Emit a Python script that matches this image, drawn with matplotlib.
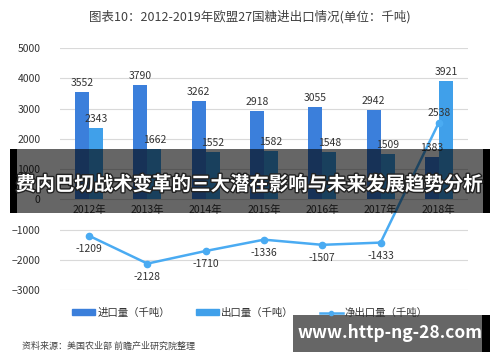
import matplotlib.pyplot as plt
import matplotlib.patches as mpatches
import matplotlib.patheffects as pe
from matplotlib.lines import Line2D
import numpy as np

plt.rcParams['font.family'] = ['Noto Sans CJK SC', 'DejaVu Sans']

years = ['2012年', '2013年', '2014年', '2015年', '2016年', '2017年', '2018年']
imports = [3552, 3790, 3262, 2918, 3055, 2942, 1383]
exports = [2343, 1662, 1552, 1582, 1548, 1509, 3921]
net_exports = [-1209, -2128, -1710, -1336, -1507, -1433, 2538]

c_imp = '#3b7fdb'
c_exp = '#40a0ea'
c_net = '#4aabf2'

fig = plt.figure(figsize=(5, 3.62), dpi=100)
ax = fig.add_axes([0.12, 0.199, 0.816, 0.668])

x = np.arange(len(years))
w = 0.24
ax.bar(x - w / 2, imports, w, color=c_imp, zorder=2)
ax.bar(x + w / 2, exports, w, color=c_exp, zorder=2)
ax.plot(x, net_exports, color=c_net, lw=1.8, marker='o', ms=4.5, zorder=3)

for i in range(len(years)):
    ax.annotate(str(imports[i]), (x[i] - w / 2, imports[i]), xytext=(0, 3),
                textcoords='offset points', ha='center', va='bottom', fontsize=7.5, color='#333333')
    ax.annotate(str(exports[i]), (x[i] + w / 2, exports[i]), xytext=(0, 3),
                textcoords='offset points', ha='center', va='bottom', fontsize=7.5, color='#333333')
    if i < len(years) - 1:
        ax.annotate(str(net_exports[i]), (x[i], net_exports[i]), xytext=(0, -6),
                    textcoords='offset points', ha='center', va='top', fontsize=7.5, color='#333333')
    else:
        ax.annotate(str(net_exports[i]), (x[i], net_exports[i]), xytext=(0, 3),
                    textcoords='offset points', ha='center', va='bottom', fontsize=7.5, color='#333333')
    ax.text(x[i], -170, years[i], ha='center', va='top', fontsize=7.5, color='#333333')

ax.set_xlim(-0.5, len(years) - 0.5)
ax.set_ylim(-3000, 5000)
ax.set_yticks(np.arange(-3000, 5001, 1000))
ax.set_xticks([])
ax.tick_params(axis='y', length=0, labelsize=7.5, labelcolor='#333333', pad=14)
ax.grid(axis='y', color='#d9d9d9', lw=0.8, zorder=0)
for s in ax.spines.values():
    s.set_visible(False)

fig.text(0.5, 0.955, '图表10：2012-2019年欧盟27国糖进出口情况(单位：千吨)', ha='center', va='center',
         fontsize=9, color='#404040')

handles = [mpatches.Patch(color=c_imp), mpatches.Patch(color=c_exp),
           Line2D([0], [0], color=c_net, lw=1.8, marker='o', ms=3)]
labels = ['进口量（千吨）', '出口量（千吨）', '净出口量（千吨）']
fig.legend(handles, labels, loc='center', bbox_to_anchor=(0.5, 0.135), ncol=3, frameon=False,
           fontsize=7.5, handlelength=2.2, handleheight=0.5, columnspacing=2.5, handletextpad=0.2,
           labelcolor='#333333')

fig.text(0.045, 0.044, '资料来源：美国农业部 前瞻产业研究院整理', ha='left', va='center',
         fontsize=6.5, color='#444444', style='italic')

# overlay banner
fig.patches.append(mpatches.Rectangle((0.02, 0.412), 0.96, 0.176, transform=fig.transFigure,
                                      facecolor='black', alpha=0.6, zorder=5))
fig.patches.append(mpatches.Rectangle((0.02, 0.412), 0.014, 0.176, transform=fig.transFigure,
                                      facecolor='black', zorder=5))
fig.patches.append(mpatches.Rectangle((0.966, 0.412), 0.014, 0.176, transform=fig.transFigure,
                                      facecolor='black', zorder=5))
fig.text(0.5, 0.49, '费内巴切战术变革的三大潜在影响与未来发展趋势分析', ha='center', va='center',
         fontsize=14, color='white', weight='bold', zorder=6,
         path_effects=[pe.withStroke(linewidth=2, foreground='#222222')])

# bottom watermark
fig.patches.append(mpatches.Rectangle((0.586, 0.028), 0.394, 0.102, transform=fig.transFigure,
                                      facecolor='#666666', zorder=5))
fig.patches.append(mpatches.Rectangle((0.964, 0.028), 0.016, 0.102, transform=fig.transFigure,
                                      facecolor='black', zorder=5))
fig.text(0.78, 0.079, 'www.http-ng-28.com', ha='center', va='center', fontsize=12.5,
         color='white', weight='bold', zorder=6)

fig.savefig('out.png', dpi=100)
